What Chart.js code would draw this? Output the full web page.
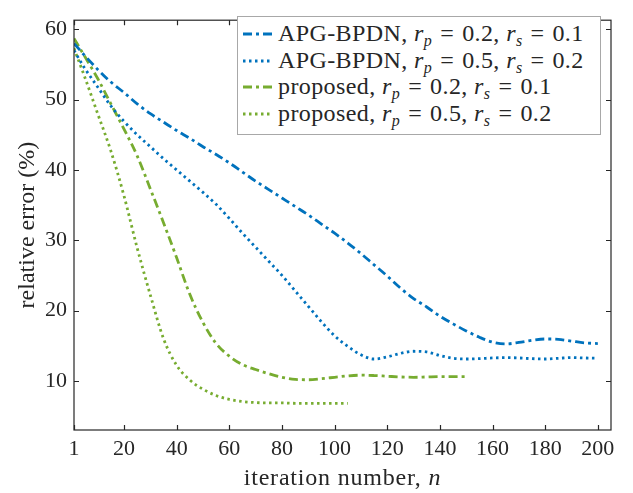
<!DOCTYPE html>
<html>
<head>
<meta charset="utf-8">
<script src="https://cdn.jsdelivr.net/npm/chart.js@4/dist/chart.umd.min.js"></script>
<style>
  html, body { margin: 0; padding: 0; background: #fff; }
  #wrap { position: relative; width: 633px; height: 493px; }
  canvas { position: absolute; left: 0; top: 0; }
  .serif { font-family: "Liberation Serif", "DejaVu Serif", serif; color: #262626; }
  #legend { position: absolute; left: 237px; top: 16px; width: 362px; height: 117px;
            border: 1px solid #a8a8a8; background: #fff; box-sizing: content-box; }
  .row { position: absolute; left: 0; height: 26px; line-height: 26px; font-size: 24px; white-space: nowrap; }
  .row svg { position: absolute; left: 5px; top: 12px; }
  .row span.t { position: absolute; left: 40px; top: 0; letter-spacing: 0.4px; }
  .eq { margin: 0 8px; }
  sub { font-size: 16px; vertical-align: -5px; line-height: 0; }
  #xtitle { position: absolute; left: 74px; width: 537px; top: 465px; text-align: center;
            font-size: 24px; line-height: 24px; letter-spacing: 0.8px; }
</style>
</head>
<body>
<div id="wrap">
  <canvas id="c" width="633" height="493"></canvas>
  <div id="legend" class="serif"></div>
  <div id="xtitle" class="serif">iteration number, <i>n</i></div>
</div>
<script>
// ---- data ----
const iterations = [1,5,10,15,20,25,30,35,40,45,50,55,60,65,70,75,80,85,90,95,100,
                    105,110,115,120,125,130,135,140,145,150,155,160,165,170,175,180,185,190,195,200];
const apgR02 = [58.0,56.3,54.3,52.5,51.0,49.4,48.0,46.8,45.6,44.5,43.3,42.2,41.0,39.7,38.4,37.2,36.0,34.8,33.6,32.3,31.0,
                29.6,28.1,26.5,24.9,23.2,21.7,20.5,19.2,18.1,17.1,16.2,15.5,15.25,15.45,15.75,15.95,15.9,15.65,15.4,15.3];
const apgR05 = [57.0,54.5,51.8,49.1,46.9,45.0,43.3,41.6,40.0,38.4,36.8,35.1,33.1,31.0,29.0,27.0,25.0,22.8,20.6,18.4,16.4,
                14.9,13.7,13.1,13.4,13.9,14.2,14.1,13.6,13.2,13.1,13.15,13.25,13.3,13.25,13.15,13.1,13.2,13.3,13.25,13.2];
const propR02 = [58.7,56.2,53.0,49.4,45.8,42.0,37.3,32.5,27.5,22.3,18.3,15.3,13.5,12.3,11.6,11.0,10.5,10.2,10.15,10.3,10.5,
                 10.7,10.8,10.75,10.65,10.55,10.5,10.55,10.6,10.6,10.6,null,null,null,null,null,null,null,null,null,null];
const propR05 = [57.3,53.3,48.0,42.7,36.3,28.9,22.2,16.0,12.2,10.1,8.8,7.9,7.35,7.05,6.9,6.85,6.85,6.8,6.8,6.8,6.8,
                 6.8,null,null,null,null,null,null,null,null,null,null,null,null,null,null,null,null,null,null,null];
const xTickValues = [1,20,40,60,80,100,120,140,160,180,200];
const yTickValues = [10,20,30,40,50,60];
const seriesNames = [
  ['APG-BPDN', '0.2', '0.1'],
  ['APG-BPDN', '0.5', '0.2'],
  ['proposed', '0.2', '0.1'],
  ['proposed', '0.5', '0.2']
];

const BLUE = '#0072BD', GREEN = '#77AC30';
const DASHDOT = [9, 4, 3, 4], DOT = [2.5, 3.5];
const styles = [
  { color: BLUE, dash: DASHDOT },
  { color: BLUE, dash: DOT },
  { color: GREEN, dash: DASHDOT },
  { color: GREEN, dash: DOT }
];
const seriesData = [apgR02, apgR05, propR02, propR05];

const FONT = '"Liberation Serif", "DejaVu Serif", serif';
const AXC = '#262626';

const datasets = seriesData.map((vals, i) => ({
  label: seriesNames[i][0] + ', r_p = ' + seriesNames[i][1] + ', r_s = ' + seriesNames[i][2],
  data: iterations.map((x, k) => ({ x: x, y: vals[k] })),
  borderColor: styles[i].color,
  backgroundColor: styles[i].color,
  borderDash: styles[i].dash,
  borderWidth: 2.8,
  pointRadius: 0,
  fill: false,
  spanGaps: false,
  cubicInterpolationMode: 'monotone',
  tension: 0.4
}));

const boxPlugin = {
  id: 'boxTicks',
  afterDraw(chart) {
    const ctx = chart.ctx, a = chart.chartArea;
    const xs = chart.scales.x, ys = chart.scales.y;
    ctx.save();
    ctx.strokeStyle = AXC;
    ctx.lineWidth = 1.2;
    ctx.setLineDash([]);
    ctx.strokeRect(a.left, a.top, a.right - a.left, a.bottom - a.top);
    const L = 5;
    ctx.beginPath();
    xTickValues.forEach(v => {
      const px = Math.round(xs.getPixelForValue(v)) + 0.5;
      ctx.moveTo(px, a.bottom); ctx.lineTo(px, a.bottom - L);
      ctx.moveTo(px, a.top); ctx.lineTo(px, a.top + L);
    });
    yTickValues.forEach(v => {
      const py = Math.round(ys.getPixelForValue(v)) + 0.5;
      ctx.moveTo(a.left, py); ctx.lineTo(a.left + L, py);
      ctx.moveTo(a.right, py); ctx.lineTo(a.right - L, py);
    });
    ctx.stroke();
    ctx.restore();
  }
};

new Chart(document.getElementById('c'), {
  type: 'line',
  data: { datasets: datasets },
  options: {
    responsive: false,
    animation: false,
    devicePixelRatio: 1,
    layout: { padding: { left: 0, top: 6, right: 22, bottom: 0 } },
    plugins: { legend: { display: false }, tooltip: { enabled: false } },
    scales: {
      x: {
        type: 'linear', min: 1, max: 205,
        afterBuildTicks: s => { s.ticks = xTickValues.map(v => ({ value: v })); },
        afterFit: s => { s.height = 63; },
        grid: { display: false, drawTicks: false },
        border: { display: false },
        ticks: { color: AXC, font: { family: FONT, size: 22 }, padding: 6, maxRotation: 0,
                 autoSkip: false, callback: v => String(v) }
      },
      y: {
        type: 'linear', min: 3, max: 61.3,
        afterBuildTicks: s => { s.ticks = yTickValues.map(v => ({ value: v })); },
        afterFit: s => { s.width = 74; },
        grid: { display: false, drawTicks: false },
        border: { display: false },
        ticks: { color: AXC, font: { family: FONT, size: 22 }, padding: 7, autoSkip: false,
                 callback: v => String(v) },
        title: { display: true, text: 'relative error (%)', color: AXC,
                 font: { family: FONT, size: 24 }, padding: { top: 13, bottom: 0 } }
      }
    }
  },
  plugins: [boxPlugin]
});

// ---- HTML legend (real text, with italic subscripts) ----
const leg = document.getElementById('legend');
seriesNames.forEach((n, i) => {
  const row = document.createElement('div');
  row.className = 'row';
  row.style.top = (3 + i * 26.5) + 'px';
  row.innerHTML =
    '<svg width="30" height="4"><line x1="0" y1="2" x2="30" y2="2" stroke="' + styles[i].color +
    '" stroke-width="2.8" stroke-dasharray="' + styles[i].dash.join(',') + '"/></svg>' +
    '<span class="t">' + n[0] + ', <i>r</i><sub><i>p</i></sub><span class="eq">=</span>' + n[1] +
    ', <i>r</i><sub><i>s</i></sub><span class="eq">=</span>' + n[2] + '</span>';
  leg.appendChild(row);
});
</script>
</body>
</html>
